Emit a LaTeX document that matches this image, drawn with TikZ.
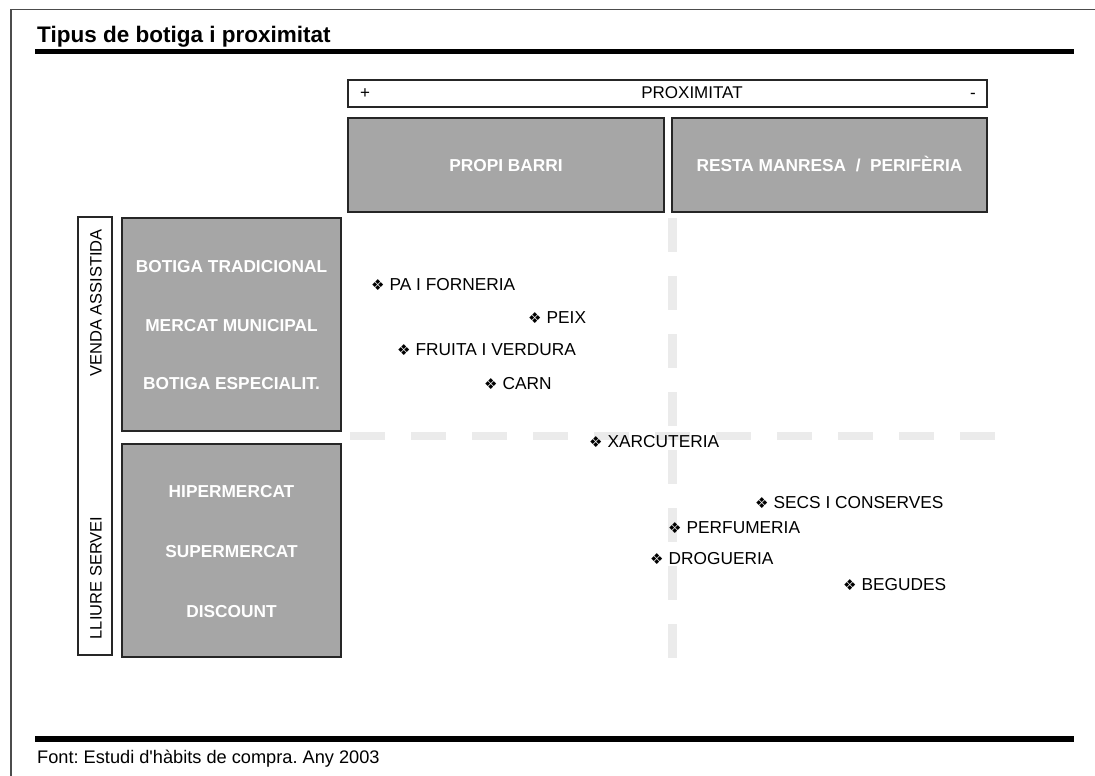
\documentclass[tikz,border=0pt]{standalone}
\usepackage{fontspec}
\setmainfont{Liberation Sans}
\newfontfamily\symfont{DejaVu Sans}
\definecolor{boxgrey}{HTML}{A6A6A6}
\definecolor{dashgrey}{HTML}{EBEBEB}
\frenchspacing
\begin{document}
\begin{tikzpicture}[x=1pt,y=-1pt,
  greybox/.style={draw=black!85, line width=1.5pt, fill=boxgrey, inner sep=0pt, text=white, text height=12.4pt, text depth=0pt, font=\bfseries\fontsize{17.3}{20}\selectfont},
  wlabel/.style={text=white, inner sep=0pt, text height=12.4pt, text depth=0pt, font=\bfseries\fontsize{17.3}{20}\selectfont},
  item/.style={anchor=west, inner sep=0pt, text height=12.4pt, text depth=0pt, font=\fontsize{17.3}{20}\selectfont},
  sidelabel/.style={rotate=90, inner sep=0pt, font=\fontsize{16.5}{20}\selectfont},
  barlabel/.style={anchor=base, inner sep=0pt, font=\fontsize{17}{20}\selectfont},
  rule/.style={fill=black, draw=none}]
\newcommand{\bul}{{\symfont\fontsize{15}{15}\selectfont ❖}\hspace{5pt}}
\useasboundingbox (0,0) rectangle (1095,776);
% outer frame
\draw[line width=1.5pt, black!70] (11,776) -- (11,9.5) -- (1095,9.5);
% title and rules
\node[anchor=base west, inner sep=0pt, font=\bfseries\fontsize{22.5}{26}\selectfont] (title) at (37,43) {Tipus de botiga i proximitat};
\fill[rule] (35,49) rectangle (1074,54);
\fill[rule] (35,736) rectangle (1074,742);
\node[anchor=base west, inner sep=0pt, font=\fontsize{18.2}{20}\selectfont] (font) at (37,763) {Font: Estudi d\textquotesingle hàbits de compra. Any 2003};
% dashed axes
\draw[dashgrey, line width=9pt, dash pattern=on 34pt off 24pt] (672,218) -- (672,662);
\draw[dashgrey, line width=8pt, dash pattern=on 35pt off 26pt] (350,436) -- (1000,436);
% proximitat bar
\node[draw=black!85, line width=1.5pt, fill=white, minimum width=639pt, minimum height=27pt, inner sep=0pt] (prox) at (667.5,93.5) {};
\node[barlabel] (proxt) at (692,99) {PROXIMITAT};
\node[barlabel] (plus) at (365,99) {+};
\node[barlabel] (minus) at (973,99) {-};
% column headers
\node[greybox, minimum width=316pt, minimum height=94pt] (barri) at (506,165) {PROPI BARRI};
\node[greybox, minimum width=315pt, minimum height=94pt] (resta) at (829.5,165) {RESTA MANRESA \ / \ PERIFÈRIA};
% side box
\node[draw=black!85, line width=1.5pt, minimum width=34pt, minimum height=438pt, inner sep=0pt] (side) at (95,436) {};
\node[sidelabel] (venda) at (96,303) {VENDA ASSISTIDA};
\node[sidelabel] (lliure) at (96,578) {LLIURE SERVEI};
% row boxes
\node[greybox, minimum width=219pt, minimum height=213pt] (row1) at (231.5,324.5) {};
\node[greybox, minimum width=219pt, minimum height=213pt] (row2) at (231.5,550.5) {};
\node[wlabel] (bt) at (231.5,266) {BOTIGA TRADICIONAL};
\node[wlabel] (mm) at (231.5,325) {MERCAT MUNICIPAL};
\node[wlabel] (be) at (231.5,383) {BOTIGA ESPECIALIT.};
\node[wlabel] (hm) at (231.5,491) {HIPERMERCAT};
\node[wlabel] (sm) at (231.5,551) {SUPERMERCAT};
\node[wlabel] (dc) at (231.5,611) {DISCOUNT};
% items
\node[item] (pa) at (371,284) {\bul PA I FORNERIA};
\node[item] (peix) at (528,317) {\bul PEIX};
\node[item] (fruita) at (397,349) {\bul FRUITA I VERDURA};
\node[item] (carn) at (484,383) {\bul CARN};
\node[item] (xarc) at (589,441) {\bul XARCUTERIA};
\node[item] (secs) at (755,502) {\bul SECS I CONSERVES};
\node[item] (perf) at (668,527) {\bul PERFUMERIA};
\node[item] (drog) at (650,558) {\bul DROGUERIA};
\node[item] (beg) at (843,584) {\bul BEGUDES};
\end{tikzpicture}
\end{document}
